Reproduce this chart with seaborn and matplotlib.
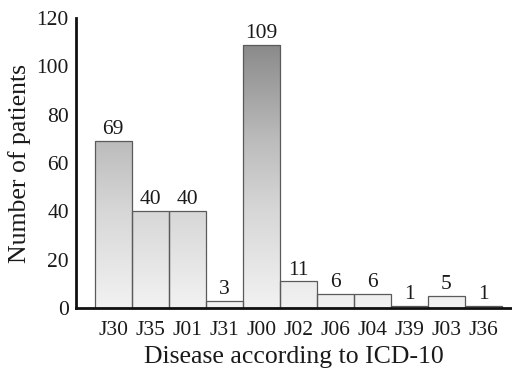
import numpy as np
import pandas as pd
import matplotlib
matplotlib.use("Agg")
import matplotlib.pyplot as plt
from matplotlib.colors import LinearSegmentedColormap
import seaborn as sns

codes = ["J30", "J35", "J01", "J31", "J00", "J02", "J06", "J04", "J39", "J03", "J36"]
patients = [69, 40, 40, 3, 109, 11, 6, 6, 1, 5, 1]
y_ticks = [0, 20, 40, 60, 80, 100, 120]

sns.set_theme(style="white")
plt.rcParams["font.family"] = ["Liberation Serif", "DejaVu Serif"]

df = pd.DataFrame({"code": codes, "patients": patients})

fig = plt.figure(figsize=(5.12, 3.77), dpi=100)
ax = fig.add_axes([0.148, 0.183, 0.852, 0.769])

sns.barplot(data=df, x="code", y="patients", order=codes, width=1.0,
            facecolor="none", edgecolor="#5a5a5a", linewidth=0.9, ax=ax,
            errorbar=None)

# vertical grey shading that depends on the absolute count
shade = LinearSegmentedColormap.from_list(
    "shade",
    [(0.0, "#f2f2f2"), (40 / 110, "#d7d7d7"), (69 / 110, "#bcbcbc"), (1.0, "#898989")],
)
grad = np.linspace(0, 1, 256).reshape(-1, 1)
for bar in ax.patches:
    x0, w, h = bar.get_x(), bar.get_width(), bar.get_height()
    im = ax.imshow(grad, cmap=shade, vmin=0, vmax=1, origin="lower",
                   extent=[x0, x0 + w, 0, 110], aspect="auto", zorder=bar.get_zorder() - 0.1)
    im.set_clip_path(bar)
    ax.text(x0 + w / 2, h + 0.8, f"{int(h)}", ha="center", va="bottom",
            fontsize=15.5, color="#1a1a1a")

ax.set_xlim(-1.01, 10.77)
ax.set_ylim(0, 120)
ax.set_yticks(y_ticks)
ax.tick_params(axis="both", length=0, labelsize=15.5, colors="#1a1a1a")
ax.tick_params(axis="x", pad=9)
ax.tick_params(axis="y", pad=5)
ax.set_xlabel("Disease according to ICD-10", fontsize=18.5, color="#1a1a1a", labelpad=5)
ax.set_ylabel("Number of patients", fontsize=18.5, color="#1a1a1a", labelpad=4)

for side in ["top", "right"]:
    ax.spines[side].set_visible(False)
for side in ["left", "bottom"]:
    ax.spines[side].set_color("#111111")
    ax.spines[side].set_linewidth(2)

fig.savefig("out.png", dpi=100)
